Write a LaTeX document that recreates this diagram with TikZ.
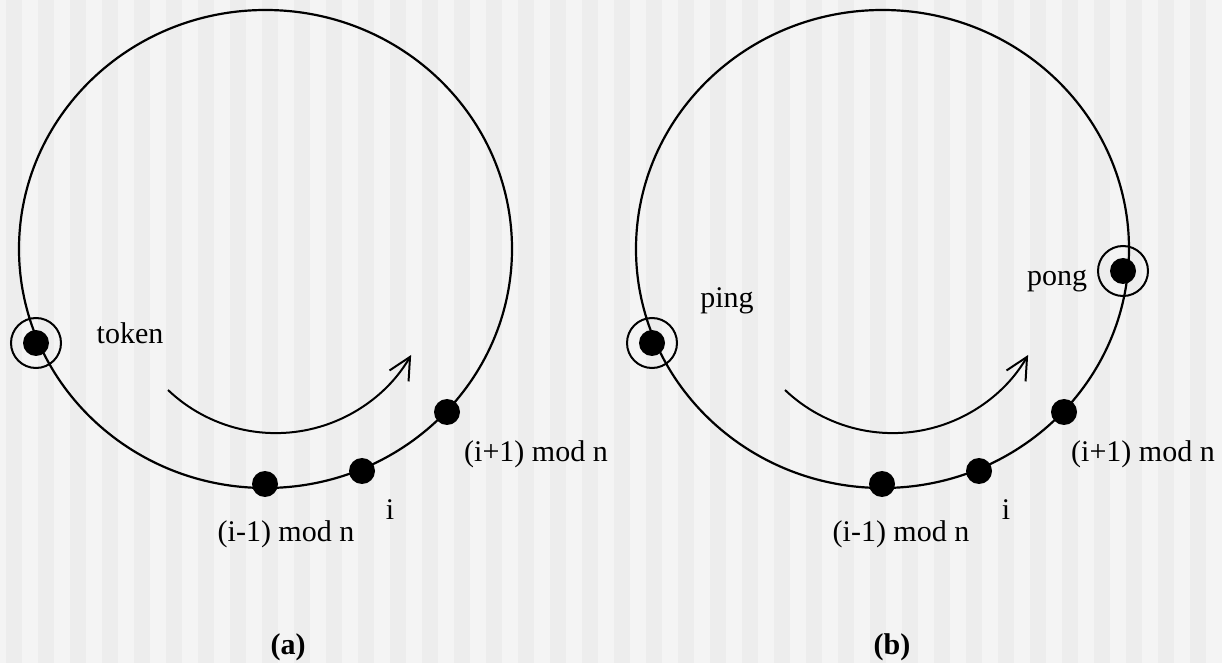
\documentclass[tikz,border=0pt]{standalone}
\usepackage{fontspec}
\setmainfont{Liberation Serif}
\usetikzlibrary{arrows.meta}
\definecolor{bglight}{HTML}{F4F4F4}
\definecolor{bgdark}{HTML}{EDEDED}
\begin{document}
\begin{tikzpicture}[x=0.5pt,y=-0.5pt,
  ringline/.style={line width=1.1pt},
  dot/.style={circle,fill=black,minimum size=13pt,inner sep=0pt},
  ring/.style={circle,draw,line width=1pt,minimum size=25pt,inner sep=0pt},
  lbl/.style={anchor=base,inner sep=0pt,font=\fontsize{15}{18}\selectfont},
  captext/.style={anchor=base,inner sep=0pt,font=\fontsize{15}{18}\selectfont\bfseries},
  flow/.style={line width=1pt,-{Straight Barb[length=11pt,width=11pt,line width=1pt]}}]
\useasboundingbox (0,0) rectangle (1222,663);
\fill[bglight] (0,0) rectangle (1222,663);
\foreach \k in {0,...,37} {\fill[bgdark] ({6+32*\k},0) rectangle ({22+32*\k},663);}
% (a)
\draw[ringline] (265.5,249) ellipse [x radius=123.25pt, y radius=119.5pt];
\node[ring] (ta) at (36,343) {};
\node[dot] (tokdot) at (36,343) {};
\node[dot] (am) at (265,484) {};
\node[dot] (ai) at (362,471) {};
\node[dot] (ap) at (447,412) {};
\node[lbl] (ltoken) at (130,344) {token};
\node[lbl] (lam) at (286,541) {(i-1) mod n};
\node[lbl] (lai) at (390,519) {i};
\node[lbl] (lap) at (536,461) {(i+1) mod n};
\node[captext] (capa) at (288,654) {(a)};
\draw[flow] (168,390) arc [start angle=226.4, end angle=330, radius=78.15pt];
% (b)
\draw[ringline] (882.5,249) ellipse [x radius=123.25pt, y radius=119.5pt];
\node[ring] (pr) at (652,343) {};
\node[dot] (pingdot) at (652,343) {};
\node[ring] (qr) at (1123,271) {};
\node[dot] (pongdot) at (1123,271) {};
\node[dot] (bm) at (882,484) {};
\node[dot] (bi) at (979,471) {};
\node[dot] (bp) at (1064,412) {};
\node[lbl] (lping) at (727,308) {ping};
\node[lbl] (lpong) at (1057,286) {pong};
\node[lbl] (lbm) at (901,541) {(i-1) mod n};
\node[lbl] (lbi) at (1006,519) {i};
\node[lbl] (lbp) at (1143,461) {(i+1) mod n};
\node[captext] (capb) at (892,654) {(b)};
\draw[flow] (785,390) arc [start angle=226.4, end angle=330, radius=78.15pt];
\end{tikzpicture}
\end{document}
